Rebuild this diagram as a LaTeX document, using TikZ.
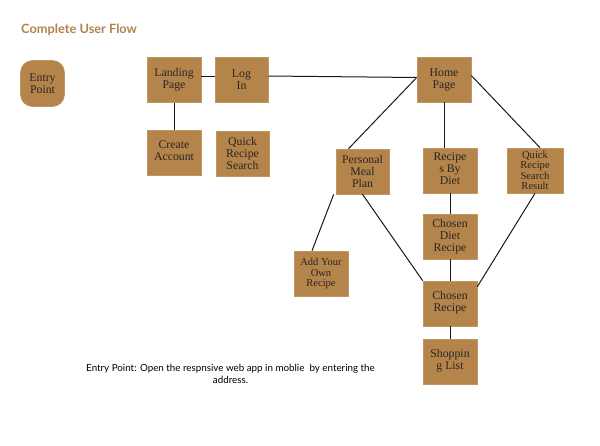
\documentclass[tikz,border=0pt]{standalone}
\usepackage{fontspec}
\setmainfont{Liberation Serif}
\newfontfamily\latofont{Lato}
\definecolor{boxfill}{HTML}{B5844A}
\definecolor{titlecol}{HTML}{B2834C}
\begin{document}
\begin{tikzpicture}[x=1pt,y=-1pt,
  box/.style={fill=boxfill, draw=boxfill!85!white, line width=0.6pt,
    minimum width=54pt, minimum height=45pt, inner sep=1pt, align=center,
    font=\fontsize{11.8}{12}\selectfont, text=black!85},
  link/.style={line width=1pt, draw=black!90}]
\useasboundingbox (0,0) rectangle (600,445);
\fill[white] (0,0) rectangle (600,445);

\node[anchor=west, font=\latofont\bfseries\fontsize{12.8}{14}\selectfont, text=titlecol, inner sep=0pt] (title) at (21,30) {Complete User Flow};

\node[box, rounded corners=12pt, minimum width=44pt, minimum height=46pt] (entry) at (42.5,83.5) {Entry\\Point};

\node[box] (landing) at (174,80) {Landing\\Page};
\node[box, minimum width=53pt] (login) at (241.5,80) {Log\\In};
\node[box] (create) at (174,152.5) {\raisebox{2pt}{\begin{tabular}{@{}c@{}}Create\\Account\end{tabular}}};
\node[box, minimum width=53pt] (quick) at (242.5,153.5) {Quick\\Recipe\\Search};
\node[box] (home) at (444,79.5) {Home\\Page};
\node[box, minimum width=53pt] (pmp) at (362.5,171.5) {Personal\\Meal\\Plan};
\node[box] (rbd) at (450,170.5) {\raisebox{-5pt}{\begin{tabular}{@{}c@{}}Recipe\\s By\\Diet\end{tabular}}};
\node[box, minimum width=56pt, font=\fontsize{10.6}{10.5}\selectfont] (qrsr) at (535,170.5) {Quick\\Recipe\\Search\\Result};
\node[box] (cdr) at (450,236.5) {Chosen\\Diet\\Recipe};
\node[box, font=\fontsize{10.5}{10.5}\selectfont] (ayor) at (321,273.5) {Add Your\\Own\\Recipe};
\node[box] (cr) at (450,303.5) {\raisebox{4pt}{\begin{tabular}{@{}c@{}}Chosen\\Recipe\end{tabular}}};
\node[box] (sl) at (450,361.5) {\raisebox{4pt}{\begin{tabular}{@{}c@{}}Shoppin\\g List\end{tabular}}};

\node[font=\latofont\fontsize{9.8}{12}\selectfont, align=center, inner sep=0pt] (note) at (230.5,374) {Entry Point: Open the respnsive web app in moblie\ \ by entering the\\address.};

\draw[link] ([yshift=4pt]landing.east) -- ([yshift=4pt]login.west);
\draw[link] ([yshift=4pt]login.east) -- ([yshift=2pt]home.west);
\draw[link] (landing) -- (create);
\draw[link] ([yshift=2pt]home.west) -- ([xshift=-14pt]pmp.north);
\draw[link] (home.south) -- (home.south |- rbd.north);
\draw[link] ([yshift=4pt]home.east) -- ([xshift=5pt]qrsr.north);
\draw[link] (rbd) -- (cdr);
\draw[link] (cdr) -- (cr);
\draw[link] (cr) -- (sl);
\draw[link] ([xshift=-2pt]pmp.south west) -- ([xshift=-9pt]ayor.north);
\draw[link] (pmp.south) -- (cr.north west);
\draw[link] (qrsr.south) -- ([yshift=-6pt]cr.north east);
\end{tikzpicture}
\end{document}
